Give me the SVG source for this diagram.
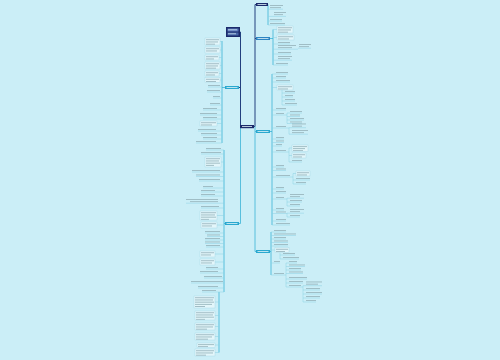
<svg xmlns="http://www.w3.org/2000/svg" width="500" height="360" viewBox="0 0 500 360">
<style>
.t{fill:#9ab7bf}
.w{fill:#dff3f8}
.u{stroke:#8ad0e2;stroke-width:.5;fill:none}
.c{stroke:#3ab2d5;stroke-width:.8;fill:none}
.n{stroke:#22407e;stroke-width:1;fill:none}
.bx{fill:#e3f6fa;stroke:#a3d8e5;stroke-width:.4}
.nav{fill:#1b2a6b}
.cy{fill:#2aa8cf}
.bl{fill:#2c84c2}
</style>
<rect width="500" height="360" fill="#cbeef7"/>

<g id="connectors">
<path class="n" d="M254 126.5 H255 V4.5 H256 M255 38.5 H256"/>
<path class="c" d="M255 126.5 V251.5 H256 M255 131.5 H256"/>
<path class="n" d="M240.5 126 V32 H240 M240.5 87.5 H239"/>
<path class="c" d="M240.5 126 V223.5 H239"/>
<path class="c" d="M268 4.5 V25 M270 38.5 H273 M273 29.5 V65 M270 131.5 H272 M272 74 V225 M270 251.5 H271 M271 232 V275 M225 87.5 H222 M222 41 V143 M225 223.5 H224 M224 150 V292 M219 292 V352.5"/>
<path class="u" d="M268 9.2 H283 M268 16.4 H286 M268 21 H282 M268 25 H285"/>
<path class="u" d="M273 29.5 H277 M273 37.5 H277 M273 44 H290 M273 49.2 H298 M298 48.2 H311 M273 54 H291 M273 60.2 H292 M273 65 H288"/>
<path class="u" d="M272 74 H288 M272 78 H286 M272 82 H290 M272 87.5 H277 M282 90 V105 M282 93 H295 M282 97 H293 M282 101 H295 M282 105 H297 M272 110 H286 M272 115 H287 M287 113 V123.5 M287 113 H302 M287 116.5 H300 M287 120 H304 M287 123.5 H302 M272 128 H289 M289 127.7 V134.2 M289 127.7 H306 M289 134.2 H308 M272 139 H284 M272 142.5 H284 M272 146 H282 M272 152 H289 M289 148 V162 M289 148 H292 M289 155.5 H292 M289 162 H302 M272 167 H284 M272 170.5 H286 M272 177 H293 M293 173.5 V184 M293 173.5 H296 M293 180 H310 M293 184 H306 M272 189 H284 M272 193 H286 M272 199 H287 M287 198.2 V206 M287 198.2 H304 M287 202 H302 M287 206 H300 M272 210 H284 M272 213.5 H287 M287 213.2 V217 M287 213.2 H304 M287 217 H300 M272 221 H286 M272 225 H290"/>
<path class="u" d="M271 232 H286 M271 235.5 H296 M271 239 H286 M271 242.5 H288 M271 246 H288 M271 250 H275 M280 252.5 V259 M280 255 H295 M280 259 H299 M271 263 H280 M271 275 H286 M286 263 V287 M286 263 H297 M286 266.5 H305 M286 270 H301 M286 273.5 H303 M286 279 H307 M286 283 H303 M286 287 H303 M303 285.7 V302 M303 285.7 H322 M303 290 H320 M303 294 H322 M303 298 H320 M303 302 H316"/>
<path class="u" d="M220 41.5 H222 M220 50 H222 M219 57.5 H222 M220 65.5 H222 M219 73.5 H222 M220 80 H222 M208 87 H222 M207 92 H222 M213 98 H222 M210 105 H222 M203 110 H222 M200 115 H222 M203 119 H222 M217 123.5 H222 M198 131 H222 M201 135 H222 M203 139 H222 M196 143 H222"/>
<path class="u" d="M206 150 H224 M201 154 H224 M221 162 H224 M192 172 H224 M196 176.5 H224 M199 181 H224 M203 188 H224 M201 192 H224 M201 196 H224 M186 203.2 H224 M201 208 H224 M217 215.5 H224 M217 225 H224 M205 233 H224 M207 236.5 H224 M205 240 H224 M205 243.5 H224 M206 247 H224 M215 254 H224 M215 262 H224 M206 269 H224 M200 273 H224 M204 278 H224 M191 283 H224 M198 288 H224 M202 292 H224 M215 302 H219 M215 315.5 H219 M215 326.5 H219 M215 336.5 H219 M215 345 H219 M215 352.5 H219"/>
</g>

<g id="root">
<rect class="nav" x="240" y="125" width="14" height="3.2"/>
<rect class="w" x="242" y="126.2" width="10" height=".8"/>
</g>

<g id="r1">
<rect class="nav" x="256" y="3" width="12" height="3"/>
<rect class="w" x="257.5" y="4" width="9" height=".8"/>
<rect class="t" x="270" y="5" width="13" height=".9"/><rect class="t" x="270" y="7.2" width="11" height=".9"/>
<rect class="t" x="274" y="12" width="12" height=".9"/><rect class="t" x="274" y="14.2" width="9" height=".9"/>
<rect class="t" x="270" y="19" width="12" height=".9"/>
<rect class="t" x="270" y="23" width="15" height=".9"/>
</g>

<g id="r2">
<rect class="bl" x="256" y="37" width="14" height="3"/>
<rect class="w" x="257.5" y="38" width="11" height=".8"/>
<rect class="bx" x="277" y="26" width="16" height="7"/>
<rect class="t" x="278" y="27.3" width="14" height=".9"/><rect class="t" x="278" y="29.5" width="13" height=".9"/><rect class="t" x="278" y="31.7" width="10" height=".9"/>
<rect class="bx" x="277" y="35" width="17" height="5"/>
<rect class="t" x="278" y="36.3" width="15" height=".9"/><rect class="t" x="278" y="38.5" width="11" height=".9"/>
<rect class="t" x="278" y="42" width="12" height=".9"/>
<rect class="t" x="278" y="45" width="18" height=".9"/><rect class="t" x="278" y="47.2" width="14" height=".9"/>
<rect class="t" x="299" y="44" width="12" height=".9"/><rect class="t" x="299" y="46.2" width="10" height=".9"/>
<rect class="t" x="278" y="52" width="13" height=".9"/>
<rect class="t" x="278" y="56" width="14" height=".9"/><rect class="t" x="278" y="58.2" width="12" height=".9"/>
<rect class="t" x="276" y="63" width="12" height=".9"/>
</g>

<g id="r3">
<rect class="cy" x="256" y="130" width="14" height="3"/>
<rect class="w" x="257.5" y="131" width="11" height=".8"/>
<rect class="t" x="276" y="72" width="12" height=".9"/>
<rect class="t" x="276" y="76" width="10" height=".9"/>
<rect class="t" x="276" y="80" width="14" height=".9"/>
<rect class="bx" x="277" y="85" width="16" height="5"/>
<rect class="t" x="278" y="86.3" width="14" height=".9"/><rect class="t" x="278" y="88.5" width="10" height=".9"/>
<rect class="t" x="285" y="91" width="10" height=".9"/>
<rect class="t" x="285" y="95" width="8" height=".9"/>
<rect class="t" x="285" y="99" width="10" height=".9"/>
<rect class="t" x="285" y="103" width="12" height=".9"/>
<rect class="t" x="276" y="108" width="10" height=".9"/>
<rect class="t" x="276" y="113" width="8" height=".9"/>
<rect class="t" x="290" y="111" width="12" height=".9"/>
<rect class="t" x="290" y="114.5" width="10" height=".9"/>
<rect class="t" x="290" y="118" width="14" height=".9"/>
<rect class="t" x="290" y="121.5" width="12" height=".9"/>
<rect class="t" x="276" y="126" width="10" height=".9"/>
<rect class="t" x="292" y="123.5" width="14" height=".9"/><rect class="t" x="292" y="125.7" width="10" height=".9"/>
<rect class="t" x="292" y="130" width="16" height=".9"/><rect class="t" x="292" y="132.2" width="12" height=".9"/>
<rect class="t" x="276" y="137" width="8" height=".9"/>
<rect class="t" x="276" y="140.5" width="8" height=".9"/>
<rect class="t" x="276" y="144" width="6" height=".9"/>
<rect class="t" x="276" y="150" width="10" height=".9"/>
<rect class="bx" x="292" y="145" width="16" height="6.4"/>
<rect class="t" x="293" y="146.2" width="14" height=".9"/><rect class="t" x="293" y="148.2" width="12" height=".9"/><rect class="t" x="293" y="150.2" width="10" height=".8"/>
<rect class="bx" x="292" y="153" width="14" height="5"/>
<rect class="t" x="293" y="154.3" width="12" height=".9"/><rect class="t" x="293" y="156.5" width="9" height=".9"/>
<rect class="t" x="292" y="160" width="10" height=".9"/>
<rect class="t" x="276" y="165" width="8" height=".9"/>
<rect class="t" x="276" y="168.5" width="10" height=".9"/>
<rect class="t" x="276" y="175" width="14" height=".9"/>
<rect class="bx" x="296" y="171" width="14" height="5"/>
<rect class="t" x="297" y="172.3" width="12" height=".9"/><rect class="t" x="297" y="174.5" width="10" height=".9"/>
<rect class="t" x="296" y="178" width="14" height=".9"/>
<rect class="t" x="296" y="182" width="10" height=".9"/>
<rect class="t" x="276" y="187" width="8" height=".9"/>
<rect class="t" x="276" y="191" width="10" height=".9"/>
<rect class="t" x="276" y="197" width="8" height=".9"/>
<rect class="t" x="290" y="194" width="14" height=".9"/><rect class="t" x="290" y="196.2" width="10" height=".9"/>
<rect class="t" x="290" y="200" width="12" height=".9"/>
<rect class="t" x="290" y="204" width="10" height=".9"/>
<rect class="t" x="276" y="208" width="8" height=".9"/>
<rect class="t" x="276" y="211.5" width="10" height=".9"/>
<rect class="t" x="290" y="209" width="14" height=".9"/><rect class="t" x="290" y="211.2" width="10" height=".9"/>
<rect class="t" x="290" y="215" width="10" height=".9"/>
<rect class="t" x="276" y="219" width="10" height=".9"/>
<rect class="t" x="276" y="223" width="14" height=".9"/>
</g>

<g id="r4">
<rect class="cy" x="256" y="250" width="14" height="3"/>
<rect class="w" x="257.5" y="251" width="11" height=".8"/>
<rect class="t" x="274" y="230" width="12" height=".9"/>
<rect class="t" x="274" y="233.5" width="22" height=".9"/>
<rect class="t" x="274" y="237" width="12" height=".9"/>
<rect class="t" x="274" y="240.5" width="14" height=".9"/>
<rect class="t" x="274" y="244" width="14" height=".9"/>
<rect class="bx" x="275" y="247.5" width="14" height="5"/>
<rect class="t" x="276" y="248.8" width="12" height=".9"/><rect class="t" x="276" y="251" width="9" height=".9"/>
<rect class="t" x="283" y="253" width="12" height=".9"/>
<rect class="t" x="283" y="257" width="16" height=".9"/>
<rect class="t" x="274" y="261" width="6" height=".9"/>
<rect class="t" x="274" y="273" width="10" height=".9"/>
<rect class="t" x="289" y="261" width="8" height=".9"/>
<rect class="t" x="289" y="264.5" width="16" height=".9"/>
<rect class="t" x="289" y="268" width="12" height=".9"/>
<rect class="t" x="289" y="271.5" width="14" height=".9"/>
<rect class="t" x="289" y="277" width="18" height=".9"/>
<rect class="t" x="289" y="281" width="14" height=".9"/>
<rect class="t" x="289" y="285" width="12" height=".9"/>
<rect class="t" x="306" y="281.5" width="16" height=".9"/><rect class="t" x="306" y="283.7" width="12" height=".9"/>
<rect class="t" x="306" y="288" width="14" height=".9"/>
<rect class="t" x="306" y="292" width="16" height=".9"/>
<rect class="t" x="306" y="296" width="14" height=".9"/>
<rect class="t" x="306" y="300" width="10" height=".9"/>
</g>

<g id="l0">
<rect class="nav" x="226" y="27" width="14" height="10"/>
<rect x="227.5" y="28.5" width="11" height="3" fill="#5a78bb"/>
<rect x="227.5" y="32.5" width="11" height="3" fill="#4766a8"/>
<rect class="w" x="228" y="29.5" width="9" height=".7"/>
<rect class="w" x="228" y="33.5" width="8" height=".7"/>
</g>

<g id="l1">
<rect class="cy" x="225" y="86" width="14" height="3"/>
<rect class="w" x="226.5" y="87" width="11" height=".8"/>
<rect class="bx" x="205" y="38" width="15" height="7"/>
<rect class="t" x="206" y="39.3" width="13" height=".9"/><rect class="t" x="206" y="41.5" width="12" height=".9"/><rect class="t" x="206" y="43.7" width="9" height=".9"/>
<rect class="bx" x="205" y="47" width="15" height="6"/>
<rect class="t" x="206" y="48.3" width="13" height=".9"/><rect class="t" x="206" y="50.5" width="11" height=".9"/>
<rect class="bx" x="205" y="55" width="14" height="5"/>
<rect class="t" x="206" y="56.3" width="12" height=".9"/><rect class="t" x="206" y="58.5" width="8" height=".9"/>
<rect class="bx" x="205" y="62" width="15" height="7"/>
<rect class="t" x="206" y="63.3" width="13" height=".9"/><rect class="t" x="206" y="65.5" width="12" height=".9"/><rect class="t" x="206" y="67.7" width="10" height=".9"/>
<rect class="bx" x="205" y="71" width="14" height="5"/>
<rect class="t" x="206" y="72.3" width="12" height=".9"/><rect class="t" x="206" y="74.5" width="9" height=".9"/>
<rect class="bx" x="205" y="77.5" width="15" height="5"/>
<rect class="t" x="206" y="78.8" width="13" height=".9"/><rect class="t" x="206" y="81" width="10" height=".9"/>
<rect class="t" x="208" y="85" width="12" height=".9"/>
<rect class="t" x="207" y="90" width="13" height=".9"/>
<rect class="t" x="213" y="96" width="7" height=".9"/>
<rect class="t" x="210" y="103" width="10" height=".9"/>
<rect class="t" x="203" y="108" width="14" height=".9"/>
<rect class="t" x="200" y="113" width="17" height=".9"/>
<rect class="t" x="203" y="117" width="14" height=".9"/>
<rect class="bx" x="200" y="121" width="17" height="5"/>
<rect class="t" x="201" y="122.3" width="15" height=".9"/><rect class="t" x="201" y="124.5" width="11" height=".9"/>
<rect class="t" x="198" y="129" width="18" height=".9"/>
<rect class="t" x="201" y="133" width="16" height=".9"/>
<rect class="t" x="203" y="137" width="14" height=".9"/>
<rect class="t" x="196" y="141" width="20" height=".9"/>
</g>

<g id="l2">
<rect class="cy" x="225" y="222" width="14" height="3"/>
<rect class="w" x="226.5" y="223" width="11" height=".8"/>
<rect class="t" x="206" y="148" width="15" height=".9"/>
<rect class="t" x="201" y="152" width="20" height=".9"/>
<rect class="bx" x="205" y="157" width="16" height="10"/>
<rect class="t" x="206" y="158.3" width="14" height=".9"/><rect class="t" x="206" y="160.5" width="13" height=".9"/><rect class="t" x="206" y="162.7" width="14" height=".9"/><rect class="t" x="206" y="164.9" width="8" height=".9"/>
<rect class="t" x="192" y="170" width="28" height=".9"/>
<rect class="t" x="196" y="174.5" width="24" height=".9"/>
<rect class="t" x="199" y="179" width="21" height=".9"/>
<rect class="t" x="203" y="186" width="10" height=".9"/>
<rect class="t" x="201" y="190" width="14" height=".9"/>
<rect class="t" x="201" y="194" width="14" height=".9"/>
<rect class="t" x="186" y="199" width="32" height=".9"/><rect class="t" x="190" y="201.2" width="28" height=".9"/>
<rect class="t" x="201" y="206" width="18" height=".9"/>
<rect class="bx" x="200" y="211" width="17" height="9"/>
<rect class="t" x="201" y="212.3" width="15" height=".9"/><rect class="t" x="201" y="214.5" width="14" height=".9"/><rect class="t" x="201" y="216.7" width="15" height=".9"/><rect class="t" x="201" y="218.9" width="8" height=".8"/>
<rect class="bx" x="201" y="222" width="16" height="6"/>
<rect class="t" x="202" y="223.3" width="14" height=".9"/><rect class="t" x="202" y="225.5" width="10" height=".9"/>
<rect class="t" x="205" y="231" width="15" height=".9"/>
<rect class="t" x="207" y="234.5" width="13" height=".9"/>
<rect class="t" x="205" y="238" width="15" height=".9"/>
<rect class="t" x="205" y="241.5" width="15" height=".9"/>
<rect class="t" x="206" y="245" width="14" height=".9"/>
<rect class="bx" x="200" y="251" width="15" height="6"/>
<rect class="t" x="201" y="252.3" width="13" height=".9"/><rect class="t" x="201" y="254.5" width="10" height=".9"/>
<rect class="bx" x="200" y="259" width="15" height="6"/>
<rect class="t" x="201" y="260.3" width="13" height=".9"/><rect class="t" x="201" y="262.5" width="11" height=".9"/>
<rect class="t" x="206" y="267" width="12" height=".9"/>
<rect class="t" x="200" y="271" width="18" height=".9"/>
<rect class="t" x="204" y="276" width="18" height=".9"/>
<rect class="t" x="191" y="281" width="32" height=".9"/>
<rect class="t" x="198" y="286" width="20" height=".9"/>
<rect class="t" x="202" y="290" width="14" height=".9"/>
<rect class="bx" x="194" y="296" width="21" height="12"/>
<rect class="t" x="195" y="297.3" width="19" height=".9"/><rect class="t" x="195" y="299.5" width="18" height=".9"/><rect class="t" x="195" y="301.7" width="19" height=".9"/><rect class="t" x="195" y="303.9" width="17" height=".9"/><rect class="t" x="195" y="306.1" width="10" height=".9"/>
<rect class="bx" x="195" y="311" width="20" height="9"/>
<rect class="t" x="196" y="312.3" width="18" height=".9"/><rect class="t" x="196" y="314.5" width="17" height=".9"/><rect class="t" x="196" y="316.7" width="18" height=".9"/><rect class="t" x="196" y="318.9" width="9" height=".8"/>
<rect class="bx" x="195" y="323" width="20" height="7"/>
<rect class="t" x="196" y="324.3" width="18" height=".9"/><rect class="t" x="196" y="326.5" width="17" height=".9"/><rect class="t" x="196" y="328.7" width="11" height=".9"/>
<rect class="bx" x="195" y="333" width="20" height="7"/>
<rect class="t" x="196" y="334.3" width="18" height=".9"/><rect class="t" x="196" y="336.5" width="16" height=".9"/><rect class="t" x="196" y="338.7" width="12" height=".9"/>
<rect class="bx" x="197" y="343" width="18" height="4.4"/>
<rect class="t" x="198" y="344.2" width="16" height=".9"/><rect class="t" x="198" y="346" width="10" height=".8"/>
<rect class="bx" x="195" y="349" width="20" height="7"/>
<rect class="t" x="196" y="350.3" width="18" height=".9"/><rect class="t" x="196" y="352.5" width="17" height=".9"/><rect class="t" x="196" y="354.7" width="10" height=".9"/>
</g>
</svg>
